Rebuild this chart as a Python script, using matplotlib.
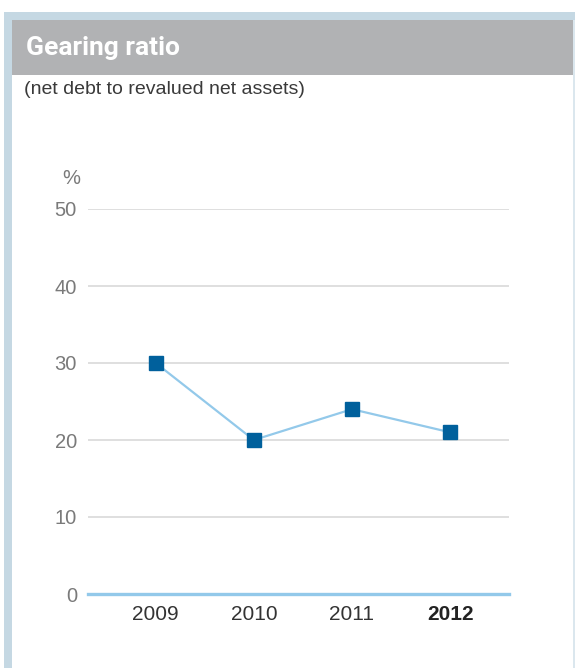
import matplotlib.pyplot as plt
from matplotlib.patches import Rectangle

years = ['2009', '2010', '2011', '2012']
gearing = [30, 20, 24, 21]
y_ticks = [0, 10, 20, 30, 40, 50]

W, H = 575, 668
fig = plt.figure(figsize=(W / 100, H / 100), dpi=100)
plt.rcParams['font.family'] = ['Liberation Sans', 'DejaVu Sans']


def px_rect(x0, y0, x1, y1, color):
    # rectangle in pixel coordinates (origin top-left)
    fig.add_artist(Rectangle((x0 / W, 1 - y1 / H), (x1 - x0) / W, (y1 - y0) / H,
                             transform=fig.transFigure, facecolor=color,
                             edgecolor='none', zorder=0))


frame = '#c5d8e3'
px_rect(4, 12, 575, 20, frame)      # top band
px_rect(4, 12, 12, 668, frame)      # left band
px_rect(573, 20, 575, 668, '#dbe7ee')  # thin right edge
px_rect(12, 20, 573, 75, '#b1b2b4')  # header

fig.text(26 / W, 1 - 48 / H, 'Gearing ratio', color='white', fontsize=19,
         fontweight='bold', family=['Roboto', 'DejaVu Sans'], va='center', ha='left')
fig.text(24 / W, 1 - 90 / H, '(net debt to revalued net assets)', color='#3a3a3a',
         fontsize=14, va='center', ha='left')

ax = fig.add_axes([88 / W, 1 - 594 / H, 421 / W, 385 / H])
x = list(range(len(years)))
ax.set_xlim(-0.69, 3.60)
ax.set_ylim(0, 50)

for t in y_ticks[1:]:
    ax.axhline(t, color='#d9d9d9', lw=1.2, zorder=1)
ax.axhline(0, color='#93c9ea', lw=2.4, zorder=2, clip_on=False)

ax.plot(x, gearing, color='#93c9ea', lw=1.6, zorder=3,
        marker='s', markersize=10, markerfacecolor='#00609c',
        markeredgecolor='#00609c', clip_on=False)

for s in ax.spines.values():
    s.set_visible(False)
ax.set_yticks(y_ticks)
ax.set_yticklabels([str(t) for t in y_ticks], color='#7a7a7a', fontsize=14.5)
ax.set_xticks(x)
ax.set_xticklabels(years, color='#333333', fontsize=15)
ax.get_xticklabels()[-1].set_fontweight('bold')
ax.get_xticklabels()[-1].set_color('#222222')
ax.tick_params(axis='y', length=0, pad=8)
ax.tick_params(axis='x', length=0, pad=8)
ax.text(-0.69 - 8 / 98, 54.0, '%', color='#7a7a7a', fontsize=14.5,
        ha='right', va='center')

fig.savefig('out.png', dpi=100)
